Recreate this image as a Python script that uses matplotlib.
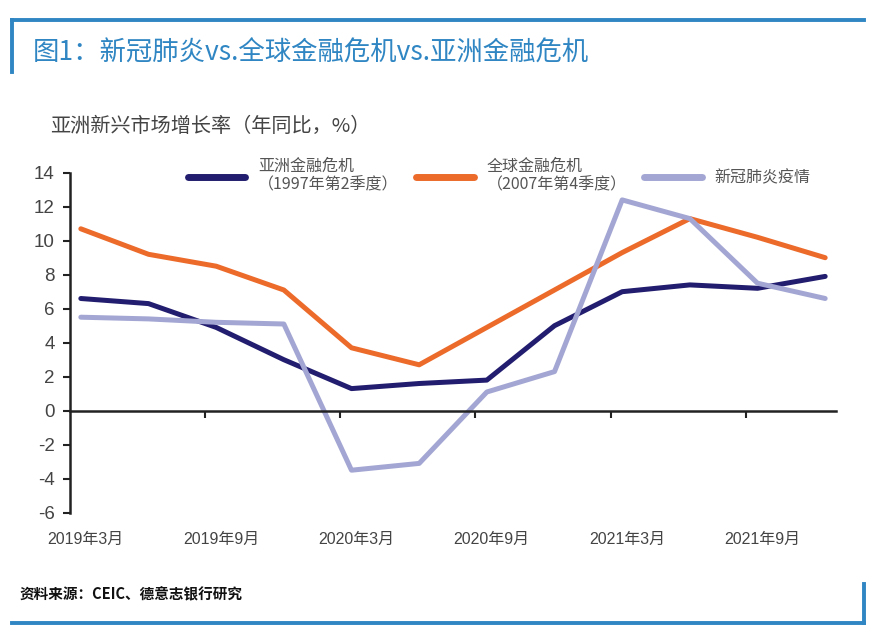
import matplotlib
matplotlib.use('Agg')
import matplotlib.pyplot as plt
import matplotlib.transforms as mtransforms
from matplotlib.lines import Line2D

plt.rcParams['font.family'] = ['Noto Sans CJK SC', 'DejaVu Sans']

# 季度数据 2019Q1 - 2021Q4
quarters = ['2019Q1', '2019Q2', '2019Q3', '2019Q4', '2020Q1', '2020Q2',
            '2020Q3', '2020Q4', '2021Q1', '2021Q2', '2021Q3', '2021Q4']
asia_1997 = [6.6, 6.3, 4.9, 3.0, 1.3, 1.6, 1.8, 5.0, 7.0, 7.4, 7.2, 7.9]
gfc_2007 = [10.7, 9.2, 8.5, 7.1, 3.7, 2.7, 4.9, 7.1, 9.3, 11.3, 10.2, 9.0]
covid = [5.5, 5.4, 5.2, 5.1, -3.5, -3.1, 1.1, 2.3, 12.4, 11.3, 7.5, 6.6]
xtick_labels = ['2019年3月', '2019年9月', '2020年3月', '2020年9月', '2021年3月', '2021年9月']
yticks = list(range(-6, 15, 2))

NAVY = '#221d6e'
ORANGE = '#ec6a2a'
LAVENDER = '#a3a6d3'
FRAME = '#2f86c3'
num_font = ['Liberation Sans', 'Noto Sans CJK SC']

fig = plt.figure(figsize=(8.82, 6.4), dpi=100)
ax = fig.add_axes([70 / 882, 1 - 512.7 / 640, 766 / 882, 340 / 640])

x = list(range(len(quarters)))
ax.plot(x, asia_1997, color=NAVY, lw=3.6, label='亚洲金融危机\n（1997年第2季度）', solid_capstyle='round')
ax.plot(x, gfc_2007, color=ORANGE, lw=3.6, label='全球金融危机\n（2007年第4季度）', solid_capstyle='round')
ax.plot(x, covid, color=LAVENDER, lw=3.6, label='新冠肺炎疫情', solid_capstyle='round')

ax.set_xlim(-0.16, 11.16)
ax.set_ylim(-6, 14)
ax.set_yticks(yticks)
ax.set_yticklabels([str(v) for v in yticks], family=num_font, fontsize=13.5, color='#444444')
ax.tick_params(axis='y', direction='out', length=5, width=1.5, color='#222222', pad=6)

ax.spines['top'].set_visible(False)
ax.spines['right'].set_visible(False)
ax.spines['left'].set_linewidth(1.8)
ax.spines['left'].set_color('#222222')
ax.spines['bottom'].set_position(('data', 0))
ax.spines['bottom'].set_linewidth(1.8)
ax.spines['bottom'].set_color('#222222')

# x 轴刻度线在零线上，标签放在底部
ax.set_xticks([i - 0.17 for i in range(2, 11, 2)])
ax.set_xticklabels([])
ax.tick_params(axis='x', direction='out', length=5, width=1.5, color='#222222')
trans = mtransforms.blended_transform_factory(ax.transData, ax.transAxes)
for i, lab in zip(range(0, len(quarters), 2), xtick_labels):
    ax.text(i + 0.07, -0.058, lab, transform=trans, ha='center', va='top',
            fontsize=11.5, color='#444444', family=num_font)

leg = ax.legend(ncol=3, loc='upper left', bbox_to_anchor=(0.135, 1.085), frameon=False,
                handlelength=3.6, handletextpad=0.8, columnspacing=1.1,
                prop={'size': 11.5}, labelspacing=0.3)
for t in leg.get_texts():
    t.set_color('#555555')
    t.set_linespacing(1.1)
for h in leg.legend_handles:
    h.set_linewidth(5)

fig.text(50 / 882, 1 - 126 / 640, '亚洲新兴市场增长率（年同比，%）', fontsize=14.5,
         color='#444444', va='center', ha='left')

fig.text(33 / 882, 1 - 53 / 640, '图1：新冠肺炎vs.全球金融危机vs.亚洲金融危机', fontsize=19,
         color=FRAME, va='center', ha='left')
fig.text(20 / 882, 1 - 594 / 640, '资料来源：CEIC、德意志银行研究', fontsize=10.5,
         color='#111111', va='center', ha='left', fontweight='bold', style='italic')

# 外框线
fig.add_artist(Line2D([12 / 882, 864 / 882], [1 - 20 / 640] * 2, color=FRAME, lw=2.8))
fig.add_artist(Line2D([12 / 882] * 2, [1 - 20 / 640, 1 - 72 / 640], color=FRAME, lw=2.8))
fig.add_artist(Line2D([12 / 882, 864 / 882], [1 - 623 / 640] * 2, color=FRAME, lw=2.8))
fig.add_artist(Line2D([864 / 882] * 2, [1 - 584 / 640, 1 - 623 / 640], color=FRAME, lw=2.8))

fig.savefig('out.png', dpi=100)
plt.close()
